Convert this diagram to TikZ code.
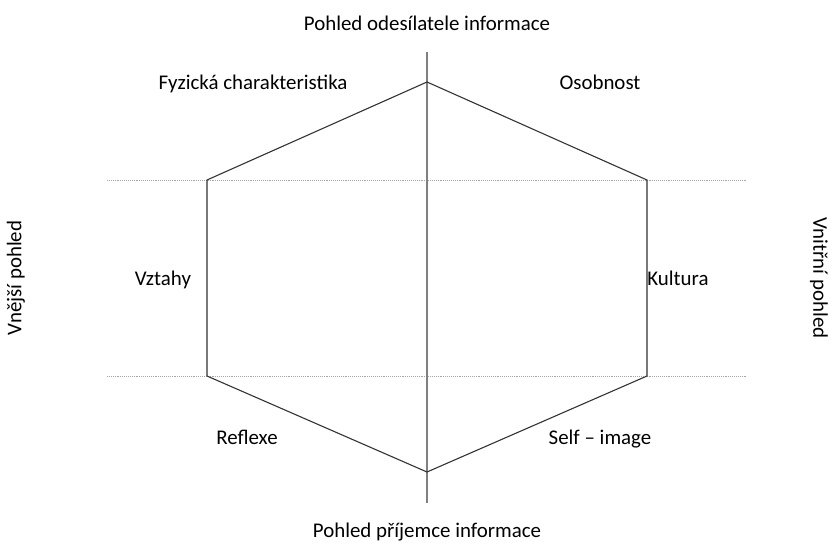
\documentclass[tikz,border=0pt]{standalone}
\usepackage{fontspec}
\setmainfont{Carlito}
\begin{document}
\begin{tikzpicture}[x=1pt,y=-1pt]
\tikzstyle{label}=[anchor=base,inner sep=0pt,font=\fontsize{20.9}{25}\selectfont]
\tikzstyle{side}=[label,anchor=center,rotate=-90]
\tikzstyle{axis}=[draw=gray,line width=1.2pt]
\tikzstyle{level}=[draw=gray!70,densely dotted,line width=0.9pt]
\tikzstyle{hexa}=[draw=black!80,line width=1.1pt]

\useasboundingbox (0,0) rectangle (834,543);

\coordinate (top) at (427,82);
\coordinate (ul) at (207,180);
\coordinate (ur) at (647,180);
\coordinate (ll) at (207,376);
\coordinate (lr) at (647,376);
\coordinate (bot) at (427,472);

\coordinate (axtop) at (427,52);
\coordinate (axbot) at (427,503);
\coordinate (hl1) at (107,180);
\coordinate (hr1) at (746,180);
\coordinate (hl2) at (107,376);
\coordinate (hr2) at (746,376);

\path [level] (hl1) edge (hr1);
\path [level] (hl2) edge (hr2);
\path [axis] (axtop) edge (axbot);
\draw [hexa] (top) -- (ur) -- (lr) -- (bot) -- (ll) -- (ul) -- cycle;

\node [label] at (427,31) (sender) {Pohled odesílatele informace};
\node [label] at (427,537) (receiver) {Pohled příjemce informace};
\node [side,rotate=180] at (16,278) (outer) {Vnější pohled};
\node [side] at (819,278) (inner) {Vnitřní pohled};

\node [label] at (253,89) (phys) {Fyzická charakteristika};
\node [label] at (600,89) (pers) {Osobnost};
\node [label] at (163,285) (rel) {Vztahy};
\node [label] at (678,285) (cult) {Kultura};
\node [label] at (247,444) (refl) {Reflexe};
\node [label] at (600,444) (self) {Self – image};
\end{tikzpicture}
\end{document}
